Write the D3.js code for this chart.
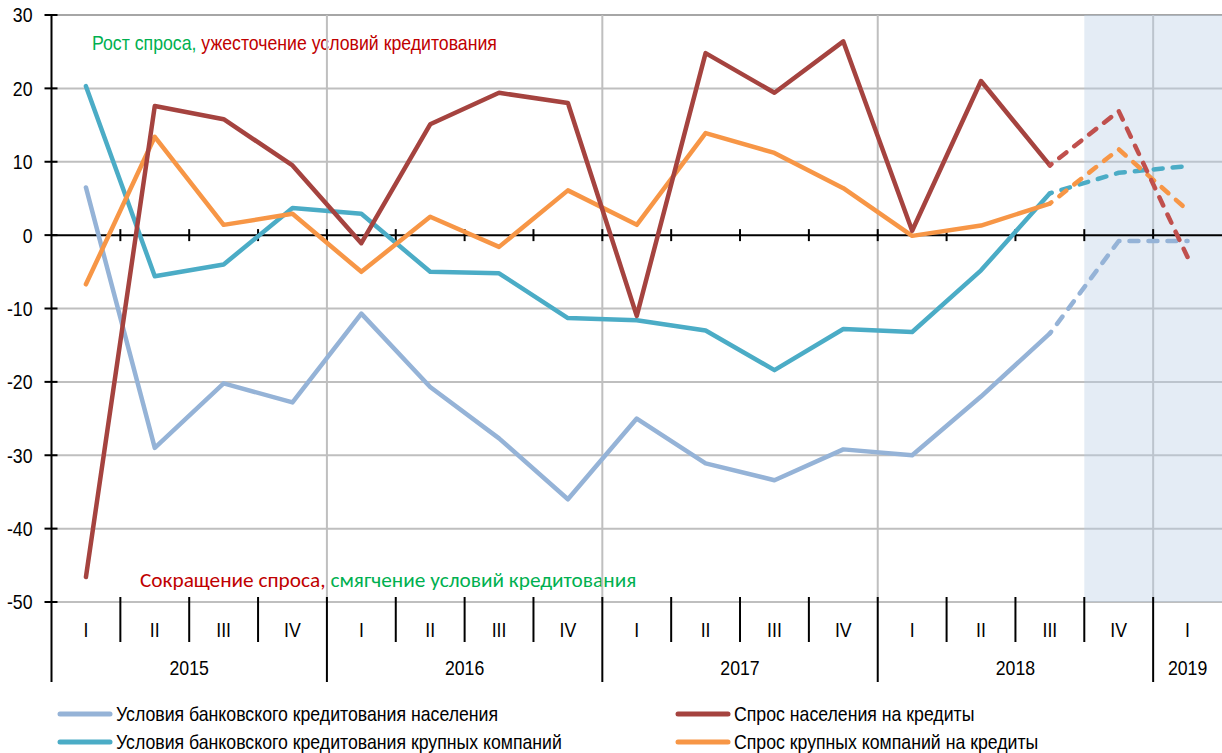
<!DOCTYPE html>
<html>
<head>
<meta charset="utf-8">
<script src="https://cdn.jsdelivr.net/npm/d3@7"></script>
<style>
  html, body { margin: 0; padding: 0; background: #fff; }
  svg { display: block; }
  .ax { font-family: "Liberation Sans", Arial, sans-serif; fill: #000; }
  .ann { font-family: "Carlito", "Open Sans", "Noto Sans", sans-serif; }
</style>
</head>
<body>
<svg id="chart" width="1222" height="753"></svg>
<script>
// ---- data ----
const years = ["2015", "2016", "2017", "2018", "2019"];
const quarters = [
  "2015 I","2015 II","2015 III","2015 IV",
  "2016 I","2016 II","2016 III","2016 IV",
  "2017 I","2017 II","2017 III","2017 IV",
  "2018 I","2018 II","2018 III","2018 IV",
  "2019 I"
];
const forecastFrom = "2018 III";   // dashed from this point on
const shadedFrom = "2018 IV";      // shaded (forecast) region

const condHouseholds = [6.5, -29, -20.2, -22.8, -10.7, -20.7, -27.7, -36, -25, -31.1, -33.4, -29.2, -30, -22, -13.4, -0.8, -0.8];
const condCorporates = [20.3, -5.6, -4, 3.7, 2.9, -5, -5.2, -11.3, -11.6, -13, -18.4, -12.8, -13.2, -4.8, 5.7, 8.5, 9.4];
const demandHouseholds = [-46.6, 17.6, 15.8, 9.5, -1.1, 15.1, 19.4, 18, -11, 24.8, 19.4, 26.4, 0.6, 21, 9.5, 16.9, -3];
const demandCorporates = [-6.7, 13.4, 1.4, 2.9, -5, 2.5, -1.6, 6.1, 1.4, 13.9, 11.2, 6.4, -0.1, 1.3, 4.3, 11.7, 3.4];

const yTicks = [30, 20, 10, 0, -10, -20, -30, -40, -50];

const seriesNames = [
  "Условия банковского кредитования населения",
  "Условия банковского кредитования крупных компаний",
  "Спрос крупных компаний на кредиты",
  "Спрос населения на кредиты"
];
const seriesValues = [condHouseholds, condCorporates, demandCorporates, demandHouseholds];
const seriesColors = ["#95b3d7", "#4bacc6", "#f79646", "#a5433f"];
const dashColors = ["#95b3d7", "#4bacc6", "#f79646", "#c0504d"];

const annTop = [["Рост спроса, ", "#00b050"], ["ужесточение условий кредитования", "#c00000"]];
const annBottom = [["Сокращение спроса, ", "#c00000"], ["смягчение условий кредитования", "#00b050"]];

// ---- layout ----
const svg = d3.select("#chart");
const pL = 51.5, pR = 1222, pT = 15, pB = 602;
const NARROW = 0.885, FS = 20;
const x = d3.scaleBand().domain(quarters).range([pL, pR]).padding(0);
const y = d3.scaleLinear().domain([-50, 30]).range([pB, pT]);
const cx = q => x(q) + x.bandwidth() / 2;

// condensed text helper (Arial Narrow look)
function narrowText(g, tx, ty, str, anchor) {
  return g.append("text").attr("class", "ax")
    .attr("transform", `translate(${tx},${ty}) scale(${NARROW},1)`)
    .attr("text-anchor", anchor || "start").attr("dominant-baseline", "central")
    .attr("font-size", FS).text(str);
}

// annotations (drawn under the gridlines)
const gTop = narrowText(svg, 92, 43, "", "start");
annTop.forEach(p => gTop.append("tspan").attr("fill", p[1]).text(p[0]));
const tb = svg.append("text").attr("class", "ann").attr("x", 140).attr("y", 580)
  .attr("font-size", 21.3).attr("dominant-baseline", "central");
annBottom.forEach(p => tb.append("tspan").attr("fill", p[1]).text(p[0]));

// horizontal gridlines
svg.append("g").selectAll("line").data(yTicks.filter(v => v !== 0)).join("line")
  .attr("x1", pL).attr("x2", pR)
  .attr("y1", d => y(d)).attr("y2", d => y(d))
  .attr("stroke", d => d === 30 ? "#a6a6a6" : "#bfbfbf").attr("stroke-width", 2);

// vertical gridlines at year boundaries
const yearStarts = quarters.filter((q, i) => i > 0 && q.endsWith(" I"));
svg.append("g").selectAll("line").data(yearStarts).join("line")
  .attr("x1", d => x(d)).attr("x2", d => x(d))
  .attr("y1", y(30)).attr("y2", y(-50))
  .attr("stroke", "#bfbfbf").attr("stroke-width", 2);

// shaded forecast region
svg.append("rect")
  .attr("x", x(shadedFrom)).attr("y", y(30))
  .attr("width", pR - x(shadedFrom)).attr("height", y(-50) - y(30))
  .attr("fill", "#b8cce4").attr("fill-opacity", 0.38);

// zero line + ticks
svg.append("line").attr("x1", pL).attr("x2", pR).attr("y1", y(0)).attr("y2", y(0))
  .attr("stroke", "#000").attr("stroke-width", 2);
svg.append("g").selectAll("line").data(quarters.slice(1)).join("line")
  .attr("x1", d => x(d)).attr("x2", d => x(d))
  .attr("y1", y(0) - 6).attr("y2", y(0) + 6)
  .attr("stroke", "#000").attr("stroke-width", 2);

// series lines
const fi = quarters.indexOf(forecastFrom);
const line = d3.line().x(d => cx(d.q)).y(d => y(d.v));
seriesValues.forEach((vals, s) => {
  const pts = vals.map((v, i) => ({q: quarters[i], v}));
  svg.append("path").datum(pts.slice(0, fi + 1)).attr("d", line)
    .attr("fill", "none").attr("stroke", seriesColors[s]).attr("stroke-width", 4.5)
    .attr("stroke-linejoin", "round").attr("stroke-linecap", "round");
  svg.append("path").datum(pts.slice(fi)).attr("d", line)
    .attr("fill", "none").attr("stroke", dashColors[s]).attr("stroke-width", 4.5)
    .attr("stroke-dasharray", "9,10").attr("stroke-dashoffset", -12)
    .attr("stroke-linejoin", "round").attr("stroke-linecap", "round");
});

// y axis (ticks positioned by d3 axis, labels condensed)
const yAxis = d3.axisLeft(y).tickValues(yTicks).tickSize(0).tickPadding(0);
const ga = svg.append("g").attr("transform", `translate(${pL},0)`).call(yAxis);
ga.select(".domain").remove();
ga.selectAll(".tick text").remove();
ga.selectAll(".tick").each(function(d) {
  narrowText(d3.select(this), -19, 0, d, "end");
});
svg.append("line").attr("x1", pL).attr("x2", pL).attr("y1", y(30)).attr("y2", 682)
  .attr("stroke", "#000").attr("stroke-width", 2);
svg.append("g").selectAll("line").data(yTicks).join("line")
  .attr("x1", pL - 7).attr("x2", pL + 6)
  .attr("y1", d => y(d)).attr("y2", d => y(d))
  .attr("stroke", "#000").attr("stroke-width", 2);

// category axis: quarter separators, labels, year separators
svg.append("g").selectAll("line").data(quarters.slice(1).filter(q => !q.endsWith(" I"))).join("line")
  .attr("x1", d => x(d)).attr("x2", d => x(d))
  .attr("y1", 597).attr("y2", 642).attr("stroke", "#000").attr("stroke-width", 2);
svg.append("g").selectAll("line").data(yearStarts).join("line")
  .attr("x1", d => x(d)).attr("x2", d => x(d))
  .attr("y1", 597).attr("y2", 682).attr("stroke", "#000").attr("stroke-width", 2);
const gq = svg.append("g");
quarters.forEach(q => narrowText(gq, cx(q), 630, q.split(" ")[1], "middle"));
const gy = svg.append("g");
years.forEach(yr => {
  const qs = quarters.filter(q => q.startsWith(yr));
  const mid = (x(qs[0]) + x(qs[qs.length - 1]) + x.bandwidth()) / 2;
  narrowText(gy, mid, 668, yr, "middle");
});

// legend
const legendOrder = [0, 3, 1, 2];
const legendPos = [[58, 714], [676, 714], [58, 742], [676, 742]];
const gl = svg.append("g");
legendOrder.forEach((s, k) => {
  const [lx, ly] = legendPos[k];
  gl.append("line").attr("x1", lx + 2).attr("x2", lx + 52).attr("y1", ly).attr("y2", ly)
    .attr("stroke", seriesColors[s]).attr("stroke-width", 5).attr("stroke-linecap", "round");
  narrowText(gl, lx + 58, ly, seriesNames[s], "start");
});
</script>
</body>
</html>
